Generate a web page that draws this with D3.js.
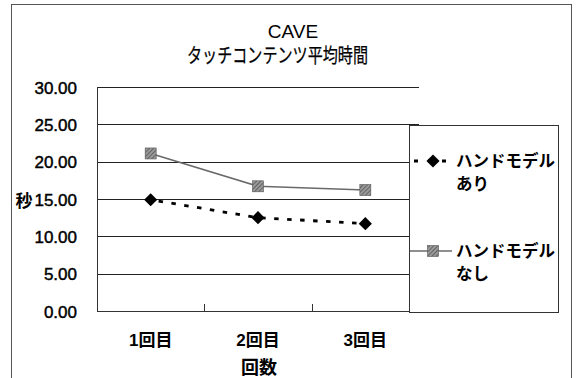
<!DOCTYPE html>
<html>
<head>
<meta charset="utf-8">
<script src="https://cdn.jsdelivr.net/npm/d3@7"></script>
<style>
  html, body { margin: 0; padding: 0; background: #fff; }
  svg { display: block; }
  text { font-family: "Liberation Sans", Arial, "Noto Sans CJK JP", sans-serif; fill: #000; }
  .jp { font-family: "Liberation Sans", "Noto Sans CJK JP", sans-serif; }
</style>
</head>
<body>
<svg id="chart" width="577" height="378"></svg>
<script>
// Chart data
const categories = ["1回目", "2回目", "3回目"];
const withHand = [14.9, 12.5, 11.7];     // ハンドモデルあり
const withoutHand = [21.1, 16.7, 16.2];  // ハンドモデルなし
const yTicks = [0, 5, 10, 15, 20, 25, 30];
const seriesNames = ["ハンドモデル\nあり", "ハンドモデル\nなし"];
const titleLines = ["CAVE", "タッチコンテンツ平均時間"];
const yTitle = "秒";
const xTitle = "回数";

const svg = d3.select("#chart");

// hatched fill for the square markers
const defs = svg.append("defs");
const pat = defs.append("pattern")
  .attr("id", "hatch").attr("patternUnits", "userSpaceOnUse")
  .attr("width", 3).attr("height", 3)
  .attr("patternTransform", "rotate(45)");
pat.append("rect").attr("width", 3).attr("height", 3).attr("fill", "#9a9a9a");
pat.append("line").attr("x1", 0).attr("y1", 0).attr("x2", 0).attr("y2", 3)
  .attr("stroke", "#444").attr("stroke-width", 1.3);

// outer chart frame
svg.append("rect")
  .attr("x", 11.5).attr("y", 4.5).attr("width", 560).attr("height", 400)
  .attr("fill", "none").attr("stroke", "#555").attr("stroke-width", 1);

const plot = { left: 97, right: 419, top: 87, bottom: 311 };

const x = d3.scaleBand().domain(categories).range([plot.left, plot.right]).padding(0);
const y = d3.scaleLinear().domain([0, 30]).range([plot.bottom, plot.top]);

// title
svg.append("text").attr("class", "jp").attr("text-anchor", "middle")
  .attr("x", 293).attr("y", 38).attr("font-size", 19).text(titleLines[0]);
svg.append("text").attr("class", "jp")
  .attr("x", 187).attr("y", 63).attr("font-size", 20.5)
  .attr("textLength", 181).attr("lengthAdjust", "spacingAndGlyphs")
  .attr("stroke", "#000").attr("stroke-width", 0.25)
  .text(titleLines[1]);

// gridlines
svg.append("g")
  .selectAll("line")
  .data(yTicks.filter(d => d > 0))
  .join("line")
  .attr("x1", plot.left).attr("x2", plot.right)
  .attr("y1", d => Math.round(y(d)) + 0.5).attr("y2", d => Math.round(y(d)) + 0.5)
  .attr("stroke", "#222").attr("stroke-width", 1);

// plot frame: left and bottom
svg.append("line")
  .attr("x1", plot.left + 0.5).attr("x2", plot.left + 0.5)
  .attr("y1", plot.top).attr("y2", plot.bottom)
  .attr("stroke", "#333");
svg.append("line")
  .attr("x1", plot.left).attr("x2", plot.right)
  .attr("y1", plot.bottom + 0.5).attr("y2", plot.bottom + 0.5)
  .attr("stroke", "#333");

// category separator ticks (inside)
svg.append("g")
  .selectAll("line")
  .data(categories.slice(0, -1))
  .join("line")
  .attr("x1", d => Math.round(x(d) + x.bandwidth()) + 0.5)
  .attr("x2", d => Math.round(x(d) + x.bandwidth()) + 0.5)
  .attr("y1", plot.bottom - 7).attr("y2", plot.bottom)
  .attr("stroke", "#333");

// y axis labels
const yAxis = d3.axisLeft(y).tickValues(yTicks).tickFormat(d3.format(".2f"))
  .tickSize(0).tickPadding(20);
const gy = svg.append("g").attr("transform", `translate(${plot.left},0)`).call(yAxis);
gy.select(".domain").remove();
gy.selectAll("text").attr("font-size", 17).attr("font-family", "'Liberation Sans', Arial, sans-serif")
  .attr("dy", "0.36em").attr("fill", "#000").attr("stroke", "#000").attr("stroke-width", 0.45);

// x axis labels
const xAxis = d3.axisBottom(x).tickSize(0).tickPadding(23);
const gx = svg.append("g").attr("transform", `translate(0,${plot.bottom})`).call(xAxis);
gx.select(".domain").remove();
gx.selectAll("text").attr("font-size", 17)
  .attr("font-family", "'Liberation Sans', 'Noto Sans CJK JP', sans-serif").attr("fill", "#000")
  .attr("font-weight", "bold");

// axis titles
svg.append("text").attr("class", "jp").attr("x", 24).attr("y", 207)
  .attr("text-anchor", "middle").attr("font-size", 17).attr("font-weight", "bold").text(yTitle);
svg.append("text").attr("class", "jp").attr("x", 259).attr("y", 374)
  .attr("text-anchor", "middle").attr("font-size", 18).attr("font-weight", "bold").text(xTitle);

const lineGen = d3.line().x((d, i) => x(categories[i]) + x.bandwidth() / 2).y(d => y(d));

// series: without hand model (gray solid, hatched squares)
svg.append("path").datum(withoutHand)
  .attr("d", lineGen).attr("fill", "none")
  .attr("stroke", "#6a6a6a").attr("stroke-width", 1.6);
svg.append("g").selectAll("rect").data(withoutHand).join("rect")
  .attr("x", (d, i) => x(categories[i]) + x.bandwidth() / 2 - 5.5)
  .attr("y", d => y(d) - 5.5)
  .attr("width", 11).attr("height", 11)
  .attr("fill", "url(#hatch)").attr("stroke", "#555").attr("stroke-width", 0.6);

// series: with hand model (black dashed, diamonds)
svg.append("path").datum(withHand)
  .attr("d", lineGen).attr("fill", "none")
  .attr("stroke", "#000").attr("stroke-width", 2.8)
  .attr("stroke-dasharray", "4.5,8.5").attr("stroke-dashoffset", -8);
const diamond = d3.symbol().type(d3.symbolDiamond2).size(110);
svg.append("g").selectAll("path").data(withHand).join("path")
  .attr("d", diamond)
  .attr("transform", (d, i) => `translate(${x(categories[i]) + x.bandwidth() / 2},${y(d)})`)
  .attr("fill", "#000");

// legend
const lg = svg.append("g");
lg.append("rect").attr("x", 409.5).attr("y", 125.5).attr("width", 149).attr("height", 187)
  .attr("fill", "#fff").attr("stroke", "#333");

// legend entry 1
lg.append("line").attr("x1", 414).attr("x2", 452).attr("y1", 161).attr("y2", 161)
  .attr("stroke", "#000").attr("stroke-width", 2.8).attr("stroke-dasharray", "4,10");
lg.append("path").attr("d", diamond).attr("transform", "translate(433,161)").attr("fill", "#000");
// legend entry 2
lg.append("line").attr("x1", 410).attr("x2", 452).attr("y1", 251).attr("y2", 251)
  .attr("stroke", "#6a6a6a").attr("stroke-width", 1.6);
lg.append("rect").attr("x", 427.5).attr("y", 245.5).attr("width", 11).attr("height", 11)
  .attr("fill", "url(#hatch)").attr("stroke", "#555").attr("stroke-width", 0.6);

const entryY = [167, 257];
seriesNames.forEach((name, i) => {
  const t = lg.append("text").attr("class", "jp").attr("font-size", 16.5).attr("font-weight", "bold");
  name.split("\n").forEach((ln, j) => {
    t.append("tspan").attr("x", 456).attr("y", entryY[i] + j * 23).text(ln);
  });
});
</script>
</body>
</html>
